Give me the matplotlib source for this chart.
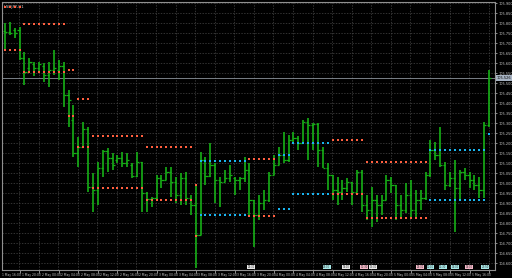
import matplotlib
matplotlib.use("Agg")
import matplotlib.pyplot as plt
import matplotlib.transforms as mtransforms

# ---- data (USDJPY, H1 bars) ----
opens = [105.761, 105.756, 105.766, 105.766, 105.626, 105.576, 105.596, 105.576, 105.586, 105.541,
         105.566, 105.566, 105.586, 105.441, 105.316, 105.151, 105.181, 105.271, 104.981, 104.966,
         105.076, 105.161, 105.126, 105.116, 105.126, 105.101, 105.091, 105.036, 105.106, 104.951,
         104.921, 104.926, 105.026, 105.016, 105.056, 105.006, 104.941, 105.026, 104.926, 104.891,
         104.741, 105.116, 105.036, 105.091, 105.016, 105.006, 105.026, 105.026, 105.016, 105.026,
         105.066, 104.916, 104.841, 104.901, 104.916, 105.041, 105.091, 105.141, 105.116, 105.216,
         105.226, 105.201, 105.306, 105.291, 105.296, 105.166, 105.076, 105.041, 104.966, 104.956,
         104.976, 105.006, 104.956, 105.056, 104.891, 104.866, 104.916, 104.891, 104.916, 105.016,
         104.991, 104.891, 104.866, 104.941, 104.866, 104.916, 104.926, 105.041, 105.166, 105.141,
         105.091, 104.991, 105.026, 104.976, 105.056, 105.041, 105.016, 104.991, 104.966, 105.291]
highs = [105.801, 105.806, 105.776, 105.781, 105.656, 105.626, 105.606, 105.606, 105.601, 105.606,
         105.666, 105.616, 105.606, 105.466, 105.391, 105.231, 105.306, 105.281, 105.051, 105.106,
         105.166, 105.176, 105.151, 105.141, 105.156, 105.151, 105.101, 105.156, 105.106, 104.956,
         104.931, 105.041, 105.041, 105.081, 105.081, 105.031, 105.051, 105.056, 104.941, 104.991,
         105.156, 105.131, 105.201, 105.101, 105.031, 105.066, 105.091, 105.031, 105.031, 105.131,
         105.101, 104.916, 104.941, 104.966, 105.056, 105.141, 105.181, 105.256, 105.241, 105.256,
         105.236, 105.316, 105.326, 105.301, 105.301, 105.181, 105.101, 105.041, 105.031, 105.016,
         105.026, 105.006, 105.066, 105.066, 104.941, 104.981, 104.941, 104.941, 105.041, 105.031,
         104.991, 104.941, 105.001, 105.016, 104.966, 104.966, 105.056, 105.216, 105.206, 105.281,
         105.106, 105.056, 105.116, 105.066, 105.076, 105.056, 105.041, 105.031, 105.306, 105.566]
lows = [105.666, 105.741, 105.726, 105.616, 105.491, 105.556, 105.536, 105.556, 105.506, 105.481,
        105.541, 105.516, 105.381, 105.281, 105.131, 105.081, 105.181, 104.956, 104.856, 104.891,
        105.031, 105.056, 105.066, 105.101, 105.081, 105.081, 105.026, 105.031, 104.856, 104.856,
        104.881, 104.916, 104.976, 105.016, 104.931, 104.901, 104.891, 104.891, 104.841, 104.576,
        104.741, 104.991, 105.031, 104.901, 104.881, 105.006, 105.006, 104.941, 104.966, 105.006,
        104.831, 104.681, 104.816, 104.866, 104.906, 105.041, 105.091, 105.101, 105.106, 105.201,
        105.166, 105.201, 105.116, 105.166, 105.081, 105.076, 104.966, 104.916, 104.891, 104.916,
        104.956, 104.891, 104.956, 104.856, 104.816, 104.781, 104.806, 104.841, 104.916, 104.951,
        104.816, 104.826, 104.851, 104.826, 104.831, 104.866, 104.916, 105.031, 105.116, 105.081,
        104.966, 104.981, 104.756, 104.916, 105.016, 104.976, 104.966, 104.926, 104.926, 105.281]
closes = [105.756, 105.751, 105.751, 105.626, 105.556, 105.606, 105.576, 105.596, 105.541, 105.566,
          105.576, 105.586, 105.441, 105.416, 105.151, 105.181, 105.271, 104.981, 104.966, 105.076,
          105.161, 105.126, 105.091, 105.126, 105.101, 105.116, 105.036, 105.106, 104.951, 104.921,
          104.926, 105.026, 105.016, 105.056, 105.006, 104.941, 105.026, 104.926, 104.891, 104.741,
          105.116, 105.036, 105.091, 105.016, 105.006, 105.026, 105.041, 105.016, 105.026, 105.066,
          104.916, 104.841, 104.901, 104.916, 105.041, 105.091, 105.141, 105.116, 105.216, 105.226,
          105.201, 105.306, 105.291, 105.296, 105.166, 105.076, 105.041, 104.966, 104.956, 104.976,
          105.006, 104.956, 105.056, 104.891, 104.866, 104.916, 104.891, 104.916, 105.016, 104.991,
          104.891, 104.866, 104.941, 104.866, 104.916, 104.926, 105.041, 105.166, 105.141, 105.091,
          104.991, 105.026, 104.976, 105.056, 105.041, 105.016, 104.991, 104.966, 105.291, 105.526]

# session level markers: (first bar, last bar, price, colour)
level_start = [-1, -1, 4, 4, 13, 13, 15, 15, 18, 18, 29, 29, 39, 39, 40, 40, 50, 50,
               56, 56, 59, 59, 67, 67, 74, 74, 87, 87, 99]
level_end = [3, 3, 12, 12, 14, 14, 17, 17, 28, 28, 38, 38, 39, 39, 49, 49, 55, 55,
             58, 58, 66, 66, 73, 73, 86, 86, 98, 98, 99]
level_price = [105.881, 105.666, 105.796, 105.556, 105.566, 105.336, 105.421, 105.181,
               105.236, 104.976, 105.181, 104.916, 104.991, 104.736, 105.111, 104.841,
               105.121, 104.836, 105.141, 104.871, 105.201, 104.946, 105.216, 104.946,
               105.106, 104.826, 105.166, 104.916, 105.246]
level_kind = ["r", "r", "r", "r", "r", "r", "r", "r", "r", "r", "r", "r", "r", "r", "c", "c",
              "r", "r", "c", "c", "c", "c", "r", "r", "r", "r", "c", "c", "c"]

price_ticks = [105.900, 105.850, 105.800, 105.750, 105.700, 105.650, 105.600, 105.550, 105.500,
               105.450, 105.400, 105.350, 105.300, 105.250, 105.200, 105.150, 105.100, 105.050,
               105.000, 104.950, 104.900, 104.850, 104.800, 104.750, 104.700, 104.650, 104.600]

time_labels = ["1 May 16:00", "1 May 20:00", "2 May 00:00", "2 May 04:00", "2 May 08:00",
               "2 May 12:00", "2 May 16:00", "2 May 20:00", "3 May 00:00", "3 May 04:00",
               "3 May 08:00", "3 May 12:00", "3 May 16:00", "3 May 20:00", "4 May 00:00",
               "4 May 04:00", "4 May 08:00", "4 May 12:00", "4 May 16:00", "4 May 20:00",
               "5 May 00:00", "5 May 04:00", "5 May 08:00", "5 May 12:00", "5 May 16:00"]

# event flags sitting on the time axis
event_bar = [50.3, 65.8, 69.7, 73.4, 75.3, 84.9, 87.0, 89.5, 92.0, 94.9, 98.2]
event_text = ["08:30", "02:00", "09:00", "12:30", "13:00", "08:30", "10:00", "12:30", "14:00", "19:00", "23:50"]
event_kind = ["w", "c", "w", "p", "w", "p", "c", "c", "c", "p", "c"]

symbol = "USDJPY,H1"

# ---- drawing ----
GREEN = "#16b016"
COLORS = {"r": "#ff5f3f", "c": "#18b4f0"}
FLAG = {"w": "#e8e8e8", "c": "#a8e8e8", "p": "#f4b8c8"}

fig = plt.figure(figsize=(5.12, 2.78), dpi=100, facecolor="black")
ax = fig.add_axes([2 / 512, 8 / 278, 493 / 512, 268 / 278])
ax.set_facecolor("black")

n = len(closes)
xs = list(range(n))

# grid
for p in price_ticks:
    ax.axhline(p, color="#474747", lw=0.5, ls=(0, (2, 2)), zorder=0)
tick_x = [3 + 4 * k for k in range(25)]
for t in tick_x:
    ax.axvline(t - 0.1, color="#474747", lw=0.5, ls=(0, (2, 2)), zorder=0)

# current price line
ax.axhline(closes[-1], color="#8c949c", lw=0.6, zorder=1)

# OHLC bars
ax.vlines(xs, lows, highs, color=GREEN, lw=1.2, zorder=3)
ax.hlines(opens, [x - 0.45 for x in xs], xs, color=GREEN, lw=0.9, zorder=3)
ax.hlines(closes, xs, [x + 0.45 for x in xs], color=GREEN, lw=0.9, zorder=3)

# level dots
for s, e, p, k in zip(level_start, level_end, level_price, level_kind):
    bx = list(range(s, e + 1))
    ax.scatter(bx, [p] * len(bx), marker="s", s=2.2, color=COLORS[k], linewidths=0, zorder=4)

ax.set_xlim(-0.6, 100.2)
ax.set_ylim(104.566, 105.906)

for side in ["left", "top", "right", "bottom"]:
    ax.spines[side].set_color("#909090")
    ax.spines[side].set_linewidth(0.8)

# right price scale
ax.yaxis.tick_right()
ax.set_yticks(price_ticks)
ax.set_yticklabels(["%.3f" % p for p in price_ticks])
ax.tick_params(axis="y", colors="#c8c8c8", labelsize=2.5, length=1.5, width=0.5, pad=0.8)

# bottom time scale
ax.set_xticks(tick_x)
ax.set_xticklabels([])
ax.tick_params(axis="x", colors="#c8c8c8", length=2, width=0.5)
trans = mtransforms.blended_transform_factory(ax.transData, ax.transAxes)
for k, lab in enumerate(time_labels):
    ax.text(-0.5 + 4 * k, -0.01, lab, transform=trans, ha="left", va="top",
            fontsize=2.2, color="#c8c8c8", clip_on=False)

# current price tag
ax.text(1.004, closes[-1], "%.3f" % closes[-1],
        transform=mtransforms.blended_transform_factory(ax.transAxes, ax.transData),
        ha="left", va="center", fontsize=2.5, color="black",
        bbox=dict(boxstyle="square,pad=0.15", fc="#a8b4c4", ec="none"), clip_on=False)

# event flags
for b, t, k in zip(event_bar, event_text, event_kind):
    ax.text(b, 0.011, t, transform=trans, ha="center", va="center", fontsize=1.8, color="#303030",
            bbox=dict(boxstyle="square,pad=0.15", fc=FLAG[k], ec="none"), zorder=6)

# symbol caption
ax.text(0.004, 0.988, symbol, transform=ax.transAxes, ha="left", va="top",
        fontsize=2.8, color="#d0d0d0")

fig.savefig("out.png", dpi=100, facecolor="black")
